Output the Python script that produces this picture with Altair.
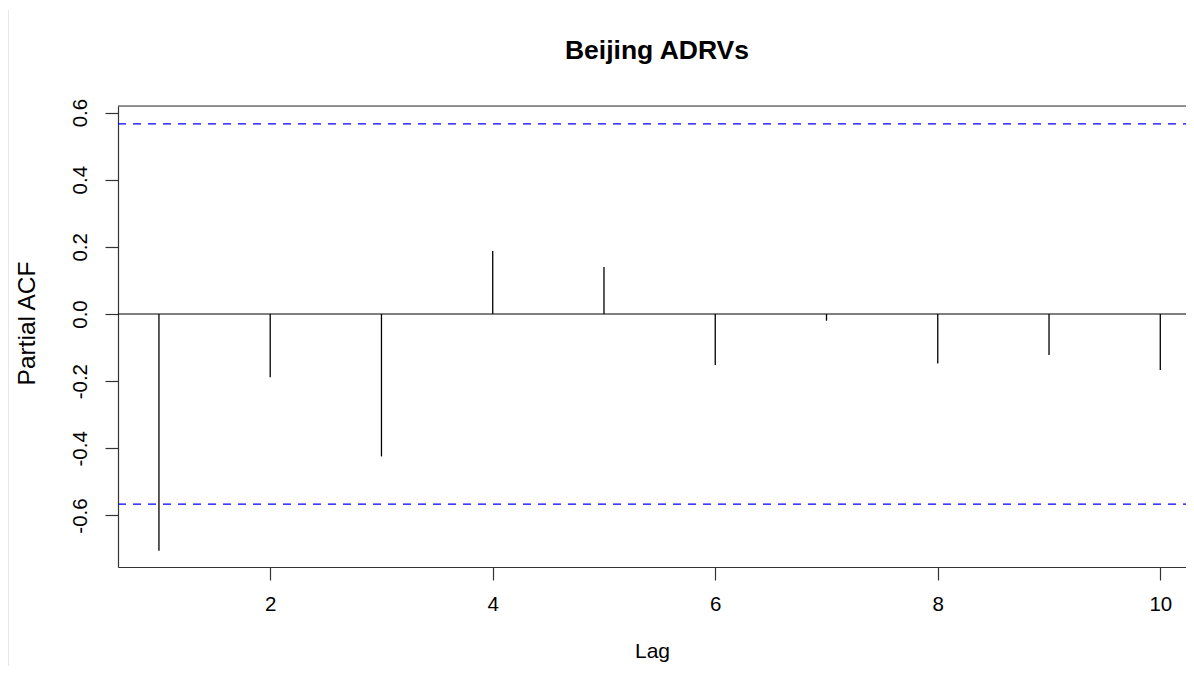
import altair as alt
import pandas as pd

# ---- data ----
lags = [1, 2, 3, 4, 5, 6, 7, 8, 9, 10]
pacf = [-0.705, -0.188, -0.424, 0.188, 0.140, -0.152, -0.020, -0.147, -0.122, -0.167]
conf_limit = 0.566
x_ticks = [2, 4, 6, 8, 10]
y_ticks = [-0.6, -0.4, -0.2, 0.0, 0.2, 0.4, 0.6]
title_text = "Beijing ADRVs"
x_title = "Lag"
y_title = "Partial ACF"

W, H = 1068, 461
FONT = "Liberation Sans"
AXIS_COL = "#333333"

df = pd.DataFrame({"lag": lags, "pacf": pacf})
df_conf = pd.DataFrame({"c": [conf_limit, -conf_limit]})
df_zero = pd.DataFrame({"z": [0.0]})
df_title = pd.DataFrame({"t": [title_text]})
df_one = pd.DataFrame({"k": [0]})

xscale = alt.Scale(domain=[0.632, 0.632 + W / 111.26], nice=False, zero=False)
yscale = alt.Scale(domain=[-0.7534, 0.6195], nice=False, zero=False)

y_label_expr = ("datum.value < 0 ? '-' + format(-datum.value, '.1f') "
                ": format(datum.value, '.1f')")

spikes = alt.Chart(df).mark_rule(color="black", strokeWidth=1.3).encode(
    x=alt.X(
        "lag:Q",
        scale=xscale,
        axis=alt.Axis(
            values=x_ticks, format="d", title=x_title, grid=False,
            tickSize=13, tickWidth=1.2, tickColor=AXIS_COL,
            domainColor=AXIS_COL, domainWidth=1.2,
            labelFont=FONT, labelFontSize=20.5, labelColor="black", labelPadding=14,
            titleFont=FONT, titleFontSize=21, titleFontWeight="normal", titleColor="black",
            titleY=84, titleBaseline="middle", labelOverlap=False,
        ),
    ),
    y=alt.Y(
        "pacf:Q",
        scale=yscale,
        axis=alt.Axis(
            values=y_ticks, labelExpr=y_label_expr, title=y_title, grid=False,
            tickSize=13, tickWidth=1.2, tickColor=AXIS_COL,
            domainColor=AXIS_COL, domainWidth=1.2,
            labelFont=FONT, labelFontSize=20.5, labelColor="black", labelPadding=15,
            labelAngle=270, labelAlign="center", labelBaseline="bottom",
            titleFont=FONT, titleFontSize=24.5, titleFontWeight="normal", titleColor="black",
            titleAngle=270, titleX=-91, titleY=217, titleBaseline="middle",
            titleAlign="center", labelOverlap=False,
        ),
    ),
    y2=alt.Y2(datum=0),
)

zero = alt.Chart(df_zero).mark_rule(color="black", strokeWidth=1.2).encode(
    y=alt.Y("z:Q", scale=yscale), x=alt.value(0), x2=alt.value(W)
)

conf = alt.Chart(df_conf).mark_rule(color="#0000ff", strokeWidth=1.2, strokeDash=[8, 7]).encode(
    y=alt.Y("c:Q", scale=yscale), x=alt.value(0), x2=alt.value(W)
)

top_border = alt.Chart(df_one).mark_rule(color=AXIS_COL, strokeWidth=1.2).encode(
    y=alt.value(0), x=alt.value(0), x2=alt.value(W)
)

page_edge = alt.Chart(df_one).mark_rule(color="#d0d0d0", strokeWidth=2).encode(
    x=alt.value(-110.5), y=alt.value(-96), y2=alt.value(560)
)

title = alt.Chart(df_title).mark_text(
    font=FONT, fontSize=26.5, fontWeight="bold", color="black",
    align="center", baseline="alphabetic",
).encode(text="t:N", x=alt.value(539), y=alt.value(-47))

chart = (
    alt.layer(conf, zero, spikes, top_border, page_edge, title)
    .properties(
        width=W,
        height=H,
        autosize=alt.AutoSizeParams(type="none"),
        padding={"left": 110, "top": 98, "right": 0, "bottom": 99},
    )
    .configure_view(stroke=None)
    .configure(background="white")
)

chart.save("out.html", embed_options={"renderer": "svg", "actions": False})
